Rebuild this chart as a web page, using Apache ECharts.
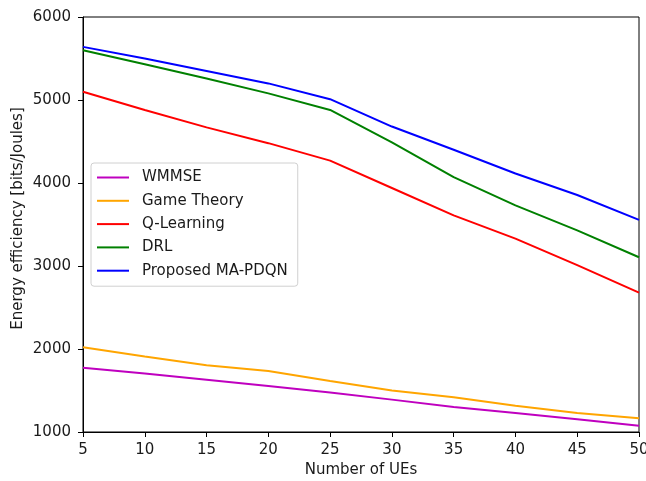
<!DOCTYPE html>
<html><head><meta charset="utf-8">
<script src="https://cdn.jsdelivr.net/npm/echarts@6/dist/echarts.min.js"></script>
<style>html,body{margin:0;padding:0;background:#fff}#c{width:646px;height:481px}</style>
</head><body><div id="c"></div>
<script>
var xValues = [5, 10, 15, 20, 25, 30, 35, 40, 45, 50];
var wmmse = [1775, 1705, 1630, 1555, 1475, 1390, 1300, 1230, 1155, 1075];
var gameTheory = [2020, 1910, 1805, 1735, 1615, 1500, 1420, 1315, 1230, 1165];
var qLearning = [5100, 4880, 4670, 4480, 4270, 3940, 3610, 3330, 3010, 2680];
var drl = [5600, 5430, 5260, 5080, 4880, 4490, 4070, 3730, 3430, 3105];
var proposed = [5640, 5500, 5350, 5200, 5010, 4680, 4400, 4115, 3855, 3555];
var names = ['WMMSE', 'Game Theory', 'Q-Learning', 'DRL', 'Proposed MA-PDQN'];
var colors = ['#bf00bf', '#ffa500', '#ff0000', '#008000', '#0000ff'];
var all = [wmmse, gameTheory, qLearning, drl, proposed];

function pairs(arr){ return xValues.map(function(x,i){ return [x, arr[i]]; }); }

var chart = echarts.init(document.getElementById('c'));
var font = 'DejaVu Sans';
var fs = 15;
chart.setOption({
  animation: false,
  backgroundColor: '#fff',
  grid: {left: 83, right: 7, top: 17, bottom: 49, containLabel: false, outerBoundsMode: 'none',
         show: true, borderColor: '#000', borderWidth: 1, backgroundColor: 'transparent'},
  xAxis: {
    type: 'value', min: 5, max: 50, interval: 5,
    name: 'Number of UEs', nameLocation: 'middle', nameGap: 31, nameMoveOverlap: false,
    nameTextStyle: {fontFamily: font, fontSize: fs, color: '#1a1a1a'},
    axisLine: {show: true, lineStyle: {color: '#000'}},
    axisTick: {show: true, length: 5, lineStyle: {color: '#000'}},
    axisLabel: {fontFamily: font, fontSize: fs, color: '#1a1a1a', margin: 11,
                formatter: function(v){ return String(v); }},
    splitLine: {show: false}
  },
  yAxis: {
    type: 'value', min: 1000, max: 6000, interval: 1000,
    name: 'Energy efficiency [bits/Joules]', nameLocation: 'middle', nameGap: 57, nameMoveOverlap: false,
    nameTextStyle: {fontFamily: font, fontSize: fs, color: '#1a1a1a', padding: [0, 0, 0, 12]},
    axisLine: {show: true, lineStyle: {color: '#000'}},
    axisTick: {show: true, length: 5, lineStyle: {color: '#000'}},
    axisLabel: {fontFamily: font, fontSize: fs, color: '#1a1a1a', margin: 12,
                formatter: function(v){ return String(v); }},
    splitLine: {show: false}
  },
  legend: {
    left: 91, top: 163, orient: 'vertical',
    data: names,
    itemWidth: 32, itemHeight: 14, itemGap: 8.3,
    padding: [7, 10, 8, 5],
    itemStyle: {opacity: 0},
    lineStyle: {width: 2},
    borderColor: '#d0d0d0', borderWidth: 1, borderRadius: 3, backgroundColor: 'rgba(255,255,255,0.8)',
    textStyle: {fontFamily: font, fontSize: fs, color: '#1a1a1a', padding: [0, 0, 0, 8]}
  },
  series: all.map(function(arr, i){
    return {
      name: names[i], type: 'line', data: pairs(arr),
      symbol: 'none', showSymbol: false,
      lineStyle: {color: colors[i], width: 2},
      itemStyle: {color: colors[i]}
    };
  })
});
</script></body></html>
